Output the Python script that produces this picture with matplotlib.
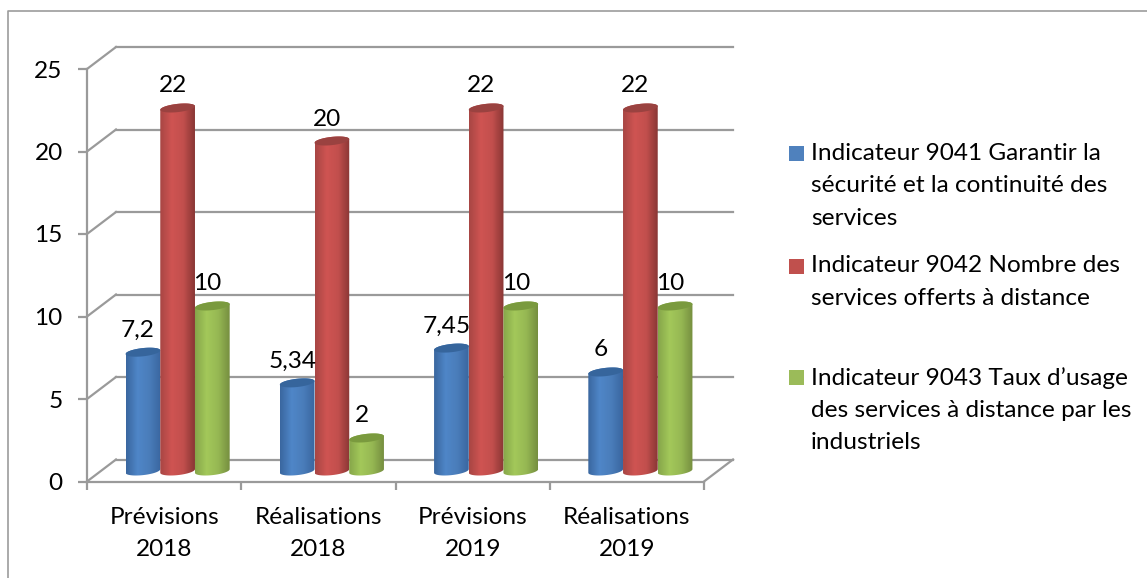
import numpy as np
import matplotlib
matplotlib.use("Agg")
import matplotlib.pyplot as plt
from matplotlib.colors import LinearSegmentedColormap
from matplotlib.patches import PathPatch, Polygon, Rectangle
from matplotlib.path import Path
from matplotlib.transforms import Affine2D

plt.rcParams["font.family"] = ["Lato", "DejaVu Sans"]

categories = ["Prévisions\n2018", "Réalisations\n2018", "Prévisions\n2019", "Réalisations\n2019"]
ind_9041 = [7.2, 5.34, 7.45, 6]
ind_9042 = [22, 20, 22, 22]
ind_9043 = [10, 2, 10, 10]
labels_9041 = ["7,2", "5,34", "7,45", "6"]
labels_9042 = ["22", "20", "22", "22"]
labels_9043 = ["10", "2", "10", "10"]
legend_lines = [
    "Indicateur 9041 Garantir la\nsécurité et la continuité des\nservices",
    "Indicateur 9042 Nombre des\nservices offerts à distance",
    "Indicateur 9043 Taux d’usage\ndes services à distance par les\nindustriels",
]
y_ticks = [0, 5, 10, 15, 20, 25]

W, H = 1147, 578
GRID = "#9a9a9a"
GRID_LW = 1.6
FONT = 17.6
LINESPACING = 1.66

# dark edge, light middle, dark edge + colour of the top cap + legend key
blue = (["#3a679f", "#4f86c8", "#4a7dba", "#3a66a0"], "#36659c", "#4f81bd")
red = (["#a84644", "#cf5452", "#c24f4d", "#8a3735"], "#9a4240", "#c0504d")
green = (["#86a64a", "#a3c85a", "#96b853", "#768f40"], "#7a9a3e", "#9bbb59")


def fx(x):
    return x / W


def fy(y):
    return 1 - y / H


fig = plt.figure(figsize=(W / 100, H / 100), dpi=100)
ax = fig.add_axes([fx(87), fy(481.5), fx(617), 412.5 / H])
ax.patch.set_visible(False)
ax.set_xlim(0, 4)
ax.set_ylim(0, 25)

# offsets of the fake 3D box, in pixels
wall = ax.transData + Affine2D().translate(29, 22)
mid = ax.transData + Affine2D().translate(13.5, 10.5)

# walls
for v in y_ticks:
    x0, y0 = ax.transData.transform((0, v))
    ax.add_line(plt.Line2D([x0, x0 + 29], [y0, y0 + 22], color=GRID, lw=GRID_LW,
                           transform=Affine2D(), clip_on=False))
    ax.plot([0, 4], [v, v], color=GRID, lw=GRID_LW, transform=wall, clip_on=False)
x0, y0 = ax.transData.transform((4, 0))
ax.add_line(plt.Line2D([x0, x0 + 29], [y0, y0 + 22], color=GRID, lw=GRID_LW,
                       transform=Affine2D(), clip_on=False))

for side in ["top", "right"]:
    ax.spines[side].set_visible(False)
for side in ["left", "bottom"]:
    ax.spines[side].set_color(GRID)
    ax.spines[side].set_linewidth(GRID_LW)

ax.set_yticks(y_ticks)
ax.tick_params(axis="y", length=6.5, width=GRID_LW, color=GRID, pad=11, labelsize=FONT)
ax.set_xticks(range(5))
ax.set_xticklabels([])
ax.tick_params(axis="x", which="major", length=6, width=GRID_LW, color=GRID)
ax.set_xticks(np.arange(4) + 0.5, labels=categories, minor=True)
ax.tick_params(axis="x", which="minor", length=0, pad=18, labelsize=FONT)
for t in ax.get_xminorticklabels():
    t.set_linespacing(LINESPACING)


def cylinder(xc, v, width, colors, zorder):
    r = width / 2
    b = 0.25  # ellipse half height, y units
    k = 0.11  # tilt of the ellipse
    t = np.linspace(0, np.pi, 40)
    # lower half of the base left to right, then upper half of the top back
    base = np.column_stack([xc - r * np.cos(t), -b * np.sin(t) - k * np.cos(t)])
    top = np.column_stack([xc + r * np.cos(t), v + b * np.sin(t) + k * np.cos(t)])
    verts = np.vstack([base, top, base[:1]])
    body = PathPatch(Path(verts), facecolor="none", edgecolor="none",
                     transform=mid, clip_on=False, zorder=zorder)
    ax.add_patch(body)
    cmap = LinearSegmentedColormap.from_list("c", colors[0])
    grad = np.linspace(0, 1, 64).reshape(1, -1)
    im = ax.imshow(grad, cmap=cmap, extent=(xc - r, xc + r, -1, v + 1), aspect="auto",
                   transform=mid, zorder=zorder, interpolation="bilinear")
    im.set_clip_path(body)
    full = np.linspace(0, 2 * np.pi, 80)
    cap = Polygon(np.column_stack([xc + r * np.cos(full),
                                   v + b * np.sin(full) + k * np.cos(full)]),
                  facecolor=colors[1], edgecolor="none", transform=mid,
                  clip_on=False, zorder=zorder + 0.1)
    ax.add_patch(cap)


bar_w = 0.225
series = [(ind_9041, labels_9041, blue), (ind_9042, labels_9042, red), (ind_9043, labels_9043, green)]
for j, (vals, labs, colors) in enumerate(series):
    for i, v in enumerate(vals):
        xc = i + 0.5 + (j - 1) * bar_w
        cylinder(xc, v, bar_w, colors, 3 + j)
        ax.annotate(labs[i], (xc, v), xycoords=mid, xytext=(-5, 22),
                    textcoords="offset pixels", ha="center", va="center",
                    fontsize=FONT, zorder=10, annotation_clip=False)
ax.set_xlim(0, 4)
ax.set_ylim(0, 25)

# legend, entries are unevenly spaced so placed by hand
key_tops = [146, 259, 370]
text_centres = [186, 282, 410]
for y, y_text, text, colors in zip(key_tops, text_centres, legend_lines, [blue, red, green]):
    fig.add_artist(Rectangle((fx(789), fy(y + 15)), fx(15), 15 / H, transform=fig.transFigure,
                             facecolor=colors[2], edgecolor="none"))
    fig.text(fx(811), fy(y_text), text, ha="left", va="center", fontsize=FONT,
             linespacing=LINESPACING)

# outer frame, only left and top are in view
fig.add_artist(plt.Line2D([fx(8), fx(8), 1], [0, fy(11), fy(11)], color="#9c9c9c", lw=1.2))

fig.savefig("out.png", dpi=100)
